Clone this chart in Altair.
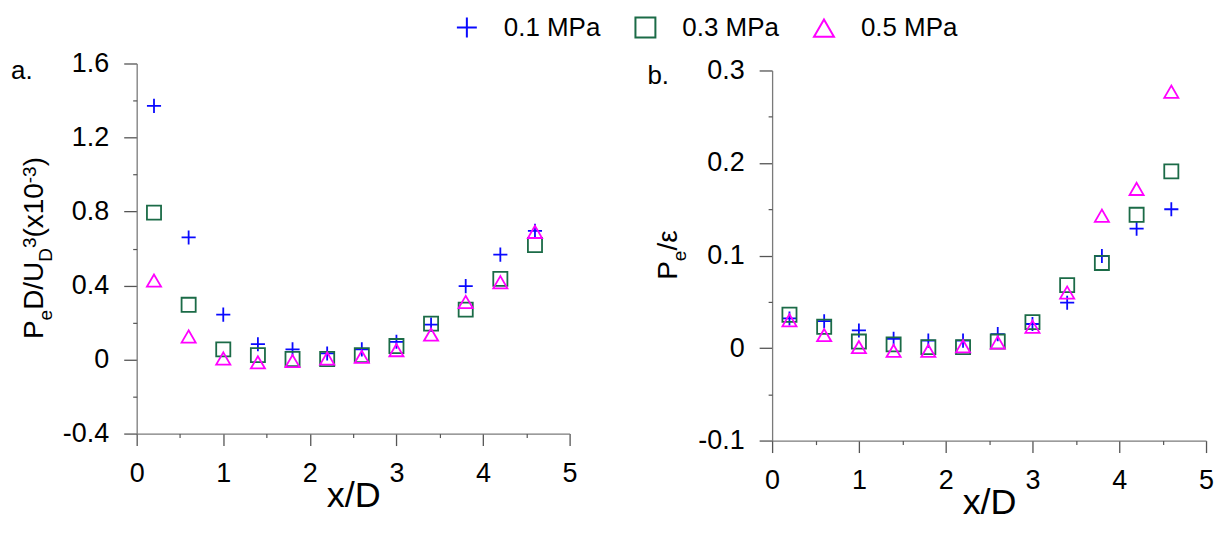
import altair as alt
import pandas as pd

# ---------------- data ----------------
x_d = [0.2, 0.6, 1.0, 1.4, 1.8, 2.2, 2.6, 3.0, 3.4, 3.8, 4.2, 4.6]
series = ["0.1 MPa", "0.3 MPa", "0.5 MPa"]

# panel a: Pe D / U_D^3 (x10^-3)
a_01 = [1.371, 0.660, 0.243, 0.083, 0.055, 0.033, 0.055, 0.096, 0.189, 0.397, 0.567, 0.696]
a_03 = [0.794, 0.296, 0.055, 0.024, 0.003, 0.003, 0.024, 0.073, 0.194, 0.270, 0.436, 0.619]
a_05 = [0.427, 0.125, 0.006, -0.015, -0.008, 0.006, 0.015, 0.051, 0.135, 0.311, 0.418, 0.690]

# panel b: Pe / epsilon
b_01 = [0.032, 0.029, 0.019, 0.010, 0.008, 0.008, 0.015, 0.026, 0.049, 0.0995, 0.129, 0.150]
b_03 = [0.036, 0.023, 0.007, 0.004, 0.001, 0.001, 0.007, 0.028, 0.068, 0.092, 0.144, 0.191]
b_05 = [0.030, 0.014, 0.001, -0.003, -0.003, 0.002, 0.006, 0.023, 0.060, 0.143, 0.172, 0.277]

x_ticks = [0, 1, 2, 3, 4, 5]
x_minor = [0.5, 1.5, 2.5, 3.5, 4.5]
a_ticks = [-0.4, 0, 0.4, 0.8, 1.2, 1.6]
a_minor = [-0.2, 0.2, 0.6, 1.0, 1.4]
b_ticks = [-0.1, 0, 0.1, 0.2, 0.3]
b_minor = [-0.05, 0.05, 0.15, 0.25]

colors = ["#0a0aff", "#1b6b47", "#ff00ff"]
cross = "M-1,0H1M0,-1V1"
shapes = [cross, "square", "triangle-up"]

rows = []
for s, ya, yb in zip(series, [a_01, a_03, a_05], [b_01, b_03, b_05]):
    for xv, va, vb in zip(x_d, ya, yb):
        rows.append({"x": xv, "series": s, "a": va, "b": vb})
df = pd.DataFrame(rows)

FONT = "Liberation Sans"
AXIS_GREY = "#7a7a7a"
TICK_GREY = "#555555"
LABEL_EXPR = ("datum.value == 0 ? '0' : (datum.value < 0 ? '-' + format(-datum.value, '.1f')"
              " : format(datum.value, '.1f'))")

legend = alt.Legend(
    orient="none", legendX=318, legendY=-49, direction="horizontal", title=None,
    labelFont=FONT, labelFontSize=26, labelColor="black", symbolSize=400,
    symbolStrokeWidth=2, labelOffset=24, columnPadding=31, padding=0,
)

color_enc = alt.Color("series:N", scale=alt.Scale(domain=series, range=colors), legend=legend)
shape_enc = alt.Shape("series:N", scale=alt.Scale(domain=series, range=shapes), legend=legend)


def x_axes():
    major = alt.Axis(orient="bottom", values=x_ticks, title="x/D", grid=False, tickSize=12,
                     tickWidth=1.3, domainWidth=1.3, domainColor=AXIS_GREY, tickColor=TICK_GREY,
                     labelFont=FONT, labelFontSize=27, labelColor="black", labelPadding=15,
                     labelFlush=False, labelOverlap=False, format="d",
                     titleFont=FONT, titleFontSize=36, titleFontWeight="normal",
                     titleColor="black", titlePadding=-8)
    minor = alt.Axis(orient="bottom", values=x_minor, labels=False, domain=False, title=None,
                     grid=False, tickSize=4, tickWidth=1.2, tickColor=TICK_GREY)
    return major, minor


def y_axes(vals, minor_vals):
    major = alt.Axis(orient="left", values=vals, title=None, grid=False, tickSize=13,
                     tickWidth=1.3, domainWidth=1.3, domainColor=AXIS_GREY, tickColor=TICK_GREY,
                     labelFont=FONT, labelFontSize=27, labelColor="black", labelPadding=15,
                     labelExpr=LABEL_EXPR, labelOverlap=False)
    minor = alt.Axis(orient="left", values=minor_vals, labels=False, domain=False, title=None,
                     grid=False, tickSize=4, tickWidth=1.2, tickColor=TICK_GREY)
    return major, minor


W = {"P": 0.667, "e": 0.556, "D": 0.722, "/": 0.278, "U": 0.722, "3": 0.556, "(": 0.333,
     "x": 0.5, "1": 0.556, "0": 0.556, "-": 0.333, ")": 0.333, "ε": 0.45}


def rotated_title(pieces, base_x, center_y, big=28, small=19):
    """pieces: list of (text, kind) with kind in 'n', 'sub', 'sup'."""
    total = sum(sum(W[c] for c in t) * (big if k == "n" else small) for t, k in pieces)
    y = center_y + total / 2
    layers = []
    for t, k in pieces:
        fs = big if k == "n" else small
        xx = base_x + (9 if k == "sub" else (-7 if k == "sup" else 0))
        layers.append(
            alt.Chart(alt.Data(values=[{}])).mark_text(
                text=t, font=FONT, fontSize=fs, angle=270, align="left",
                baseline="alphabetic", color="black"
            ).encode(x=alt.value(xx), y=alt.value(y))
        )
        y -= sum(W[c] for c in t) * fs
    return layers


def panel_label(txt, x, y):
    return alt.Chart(alt.Data(values=[{}])).mark_text(
        text=txt, font=FONT, fontSize=26, align="left", baseline="alphabetic", color="black"
    ).encode(x=alt.value(x), y=alt.value(y))


def panel(field, domain, yt, ym, extra_layers, show_legend, width, height, top=0):
    xmaj, xmin = x_axes()
    ymaj, ymin = y_axes(yt, ym)
    xs = alt.Scale(domain=[0, 5], nice=False, zero=False)
    ys = alt.Scale(domain=domain, nice=False, zero=False, range=[height, top])
    base = alt.Chart(df)
    if show_legend:
        c, s = color_enc, shape_enc
    else:
        c = alt.Color("series:N", scale=alt.Scale(domain=series, range=colors), legend=None)
        s = alt.Shape("series:N", scale=alt.Scale(domain=series, range=shapes), legend=None)
    pts = base.mark_point(filled=False, size=200, strokeWidth=1.8, opacity=1).encode(
        x=alt.X("x:Q", scale=xs, axis=xmaj),
        y=alt.Y(f"{field}:Q", scale=ys, axis=ymaj),
        color=c,
        shape=s,
    )
    minor = base.mark_point(opacity=0, size=1).encode(
        x=alt.X("x:Q", scale=xs, axis=xmin),
        y=alt.Y(f"{field}:Q", scale=ys, axis=ymin),
    )
    return alt.layer(pts, minor, *extra_layers).resolve_axis(
        x="independent", y="independent"
    ).properties(width=width, height=height)


# panel b's plot sits 7 px lower than panel a's in the reference
B_TOP = 7

left_title = rotated_title(
    [("P", "n"), ("e", "sub"), ("D/U", "n"), ("D", "sub"), ("3", "sup"),
     ("(x10", "n"), ("-3", "sup"), (")", "n")],
    base_x=-93.7, center_y=185,
)
right_title = rotated_title(
    [("P", "n"), ("e", "sub"), ("/", "n"), ("ε", "n")],
    base_x=-95, center_y=185 + B_TOP,
)

left = panel("a", [-0.4, 1.6], a_ticks, a_minor,
             [panel_label("a.", -126, 16)] + left_title, True, 434, 371)
right = panel("b", [-0.1, 0.3], b_ticks, b_minor,
              [panel_label("b.", -125, 14 + B_TOP)] + right_title, False, 435, 371 + B_TOP,
              top=B_TOP)

chart = alt.hconcat(left, right, spacing=70).properties(
    padding={"left": 3, "top": 6, "right": 5, "bottom": 0},
    background="white",
).configure_view(stroke=None)

chart.save("out.html", embed_options={"renderer": "svg", "actions": False})
